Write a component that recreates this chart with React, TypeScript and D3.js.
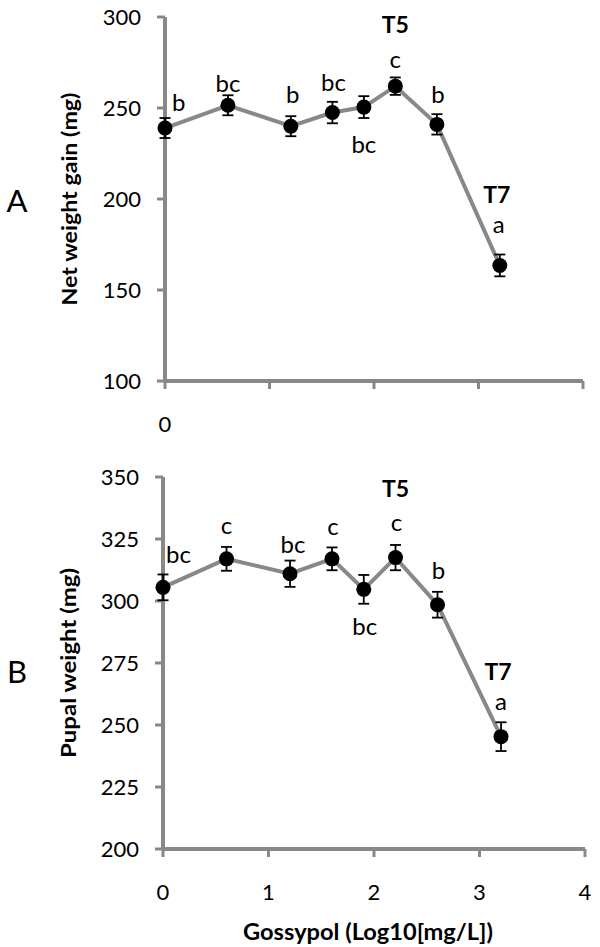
import React from "react";
import * as d3 from "d3";

// Data
const gossypolLog = [0, 0.602, 1.204, 1.602, 1.903, 2.204, 2.602, 3.204];
const netGain = [239, 251.5, 240, 247.5, 250.5, 262, 241, 163.5];
const netGainErr = [5.5, 5.5, 5.5, 5.9, 6, 4.8, 5.6, 6];
const netGainLetters = ["b", "bc", "b", "bc", "bc", "c", "b", "a"];
const pupalWeight = [305.5, 317, 311, 317, 304.7, 317.5, 298.5, 245.3];
const pupalWeightErr = [5.2, 4.8, 5.3, 4.6, 5.8, 5.1, 5.2, 5.8];
const pupalLetters = ["bc", "c", "bc", "c", "bc", "c", "b", "a"];
const treatmentTags = ["", "", "", "", "", "T5", "", "T7"];
const xTicks = [0, 1, 2, 3, 4];
const netTicks = [100, 150, 200, 250, 300];
const pupalTicks = [200, 225, 250, 275, 300, 325, 350];

// Layout (label offsets in px relative to the point)
const netLabelDx = [7, 0, 2, 1, 0, 0, 1, -1];
const netLabelDy = [-17, -13, -23, -22, 46, -18, -21, -32];
const netTagDy = [0, 0, 0, 0, 0, -53, 0, -62];
const pupLabelDx = [3, 0, 3, 1, 1, 1, 1, 0];
const pupLabelDy = [-24, -25, -21, -24, 46, -27, -26, -27];
const pupTagDy = [0, 0, 0, 0, 0, -61, 0, -57];

const GRAY = "#888888";
const FONT = "Lato, 'Open Sans', sans-serif";

type PanelProps = {
  x0: number; x1: number; yTop: number; yBot: number;
  domain: [number, number]; ticks: number[]; values: number[]; errs: number[];
  letters: string[]; ldx: number[]; ldy: number[]; tagDy: number[];
  xLabels: number[]; title: string; titleX: number; titleLen: number;
  panel: string; panelX: number; panelY: number;
};

function Panel(p: PanelProps) {
  const x = d3.scaleLinear().domain([0, 4]).range([p.x0, p.x1]);
  const y = d3.scaleLinear().domain(p.domain).range([p.yBot, p.yTop]);
  const line = d3.line<number>().x((_, i) => x(gossypolLog[i])).y((d) => y(d));
  const midY = (p.yTop + p.yBot) / 2;
  return (
    <g>
      <line x1={p.x0} x2={p.x0} y1={p.yTop} y2={p.yBot} stroke={GRAY} strokeWidth={4} />
      <line x1={p.x0} x2={p.x1} y1={p.yBot} y2={p.yBot} stroke={GRAY} strokeWidth={4} />
      {p.ticks.map((t) => (
        <g key={"yt" + t}>
          <line x1={p.x0 - 8} x2={p.x0} y1={y(t)} y2={y(t)} stroke={GRAY} strokeWidth={3} />
          <text x={p.x0 - 24} y={y(t)} dy="0.35em" textAnchor="end" fontSize={22} fontFamily={FONT} fill="#000">{t}</text>
        </g>
      ))}
      {xTicks.map((t) => (
        <line key={"xt" + t} x1={x(t)} x2={x(t)} y1={p.yBot} y2={p.yBot + 8} stroke={GRAY} strokeWidth={3} />
      ))}
      {p.xLabels.map((t) => (
        <text key={"xl" + t} x={x(t)} y={p.yBot + 43} dy="0.35em" textAnchor="middle" fontSize={22} fontFamily={FONT} fill="#000">{t}</text>
      ))}
      <path d={line(p.values) || ""} fill="none" stroke={GRAY} strokeWidth={4} />
      {p.values.map((v, i) => {
        const cx = x(gossypolLog[i]);
        const top = y(v + p.errs[i]);
        const bot = y(v - p.errs[i]);
        return (
          <g key={"e" + i} stroke="#000" strokeWidth={1.8}>
            <line x1={cx} x2={cx} y1={top} y2={bot} />
            <line x1={cx - 5.5} x2={cx + 5.5} y1={top} y2={top} />
            <line x1={cx - 5.5} x2={cx + 5.5} y1={bot} y2={bot} />
          </g>
        );
      })}
      {p.values.map((v, i) => (
        <circle key={"c" + i} cx={x(gossypolLog[i])} cy={y(v)} r={7.5} fill="#000" />
      ))}
      {p.values.map((v, i) => (
        <text key={"l" + i} x={x(gossypolLog[i]) + p.ldx[i]} y={y(v) + p.ldy[i]}
          textAnchor={i === 0 ? "start" : "middle"} fontSize={24} fontFamily={FONT} fill="#000">{p.letters[i]}</text>
      ))}
      {p.values.map((v, i) => treatmentTags[i] ? (
        <text key={"t" + i} x={x(gossypolLog[i]) + (i === 7 ? -3 : 0)} y={y(v) + p.tagDy[i]}
          textAnchor="middle" fontSize={23} fontWeight="bold" fontFamily={FONT} fill="#000">{treatmentTags[i]}</text>
      ) : null)}
      <text transform={`translate(${p.titleX},${midY}) rotate(-90)`} textAnchor="middle"
        fontSize={21} fontWeight="bold" fontFamily={FONT} fill="#000"
        textLength={p.titleLen} lengthAdjust="spacingAndGlyphs">{p.title}</text>
      <text x={p.panelX} y={p.panelY} textAnchor="middle" fontSize={31} fontFamily={FONT} fill="#000">{p.panel}</text>
    </g>
  );
}

export default function App() {
  return (
    <svg width={600} height={947} style={{ position: "absolute", left: 0, top: 0, display: "block", background: "#fff" }}>
      <rect width={600} height={947} fill="#fff" />
      <Panel x0={165} x1={583} yTop={17} yBot={381} domain={[100, 300]} ticks={netTicks}
        values={netGain} errs={netGainErr} letters={netGainLetters} ldx={netLabelDx} ldy={netLabelDy}
        tagDy={netTagDy} xLabels={[0]} title="Net weight gain (mg)" titleX={77} titleLen={213}
        panel="A" panelX={17} panelY={212} />
      <Panel x0={163} x1={585} yTop={477} yBot={849} domain={[200, 350]} ticks={pupalTicks}
        values={pupalWeight} errs={pupalWeightErr} letters={pupalLetters} ldx={pupLabelDx} ldy={pupLabelDy}
        tagDy={pupTagDy} xLabels={xTicks} title="Pupal weight (mg)" titleX={76} titleLen={190}
        panel="B" panelX={17} panelY={683} />
      <text x={368} y={940} textAnchor="middle" fontSize={22} fontWeight="bold" fontFamily={FONT} fill="#000"
        textLength={250} lengthAdjust="spacingAndGlyphs">Gossypol (Log10[mg/L])</text>
    </svg>
  );
}
